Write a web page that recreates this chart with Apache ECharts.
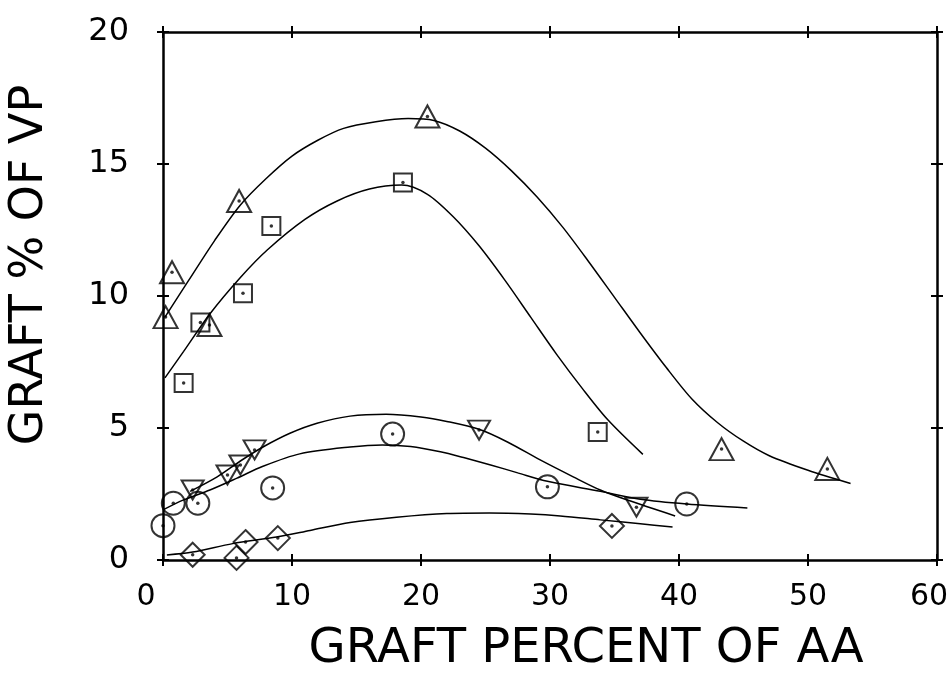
<!DOCTYPE html>
<html><head><meta charset="utf-8">
<script src="https://cdn.jsdelivr.net/npm/echarts@6/dist/echarts.min.js"></script>
<style>html,body{margin:0;padding:0;background:#fff}#c{width:952px;height:680px}</style>
</head><body><div id="c"></div>
<script>
// ---- data ----
const xRange = [0, 60];
const xStep = 10;
const yRange = [0, 20];
const yStep = 5;
const xTitle = 'GRAFT PERCENT OF AA';
const yTitle = 'GRAFT % OF VP';

// measured points [x, y]
const triangles = [[0.2,9.2],[0.7,10.9],[3.6,8.9],[5.9,13.6],[20.5,16.8],[43.3,4.2],[51.5,3.45]];
const squares = [[1.6,6.7],[2.9,9.0],[6.2,10.1],[8.4,12.65],[18.6,14.3],[33.7,4.85]];
const invTriangles = [[2.3,2.65],[5.0,3.22],[6.0,3.6],[7.1,4.17],[24.5,4.92],[36.7,2.0]];
const circles = [[0.0,1.3],[0.8,2.15],[2.7,2.15],[8.5,2.73],[17.8,4.77],[29.8,2.77],[40.6,2.12]];
const diamonds = [[2.3,0.2],[5.7,0.08],[6.4,0.68],[8.9,0.83],[34.8,1.29]];

// fitted curves [x, y]
const triCurve = [[0.15,9.2],[2.0,10.6],[4.0,12.1],[6.0,13.45],[8.0,14.45],[10.0,15.3],[12.0,15.9],[14.0,16.35],[16.5,16.6],[19.0,16.72],[21.0,16.65],[23.0,16.25],[25.0,15.6],[27.0,14.75],[29.0,13.75],[31.0,12.6],[33.0,11.3],[35.0,9.95],[37.0,8.6],[39.0,7.3],[41.0,6.1],[43.0,5.2],[45.0,4.5],[47.0,3.95],[50.0,3.4],[53.3,2.9]];
const sqCurve = [[0.15,6.9],[1.6,7.9],[3.6,9.3],[6.0,10.7],[8.1,11.75],[11.0,12.9],[13.5,13.6],[16.0,14.05],[18.5,14.2],[20.5,13.85],[22.5,13.0],[24.5,11.9],[26.5,10.6],[28.5,9.2],[30.5,7.8],[32.5,6.5],[34.5,5.3],[37.2,4.0]];
const invCurve = [[2.1,2.6],[4.2,3.15],[6.0,3.75],[7.75,4.28],[9.84,4.8],[11.94,5.18],[14.5,5.45],[17.3,5.52],[20.0,5.42],[22.0,5.25],[24.5,4.95],[26.7,4.47],[29.2,3.8],[31.8,3.15],[33.9,2.65],[36.0,2.27],[39.7,1.67]];
const circCurve = [[0.0,1.9],[1.55,2.27],[3.64,2.65],[5.74,3.1],[7.75,3.55],[10.6,4.02],[14.5,4.28],[17.0,4.36],[19.2,4.3],[21.5,4.1],[23.3,3.88],[25.4,3.6],[27.5,3.3],[29.8,2.98],[33.9,2.6],[37.0,2.3],[40.6,2.12],[45.3,1.97]];
const diaCurve = [[0.3,0.19],[2.3,0.3],[5.4,0.62],[8.8,0.87],[11.4,1.12],[14.5,1.42],[18.1,1.62],[22.0,1.76],[25.3,1.78],[28.5,1.74],[30.8,1.67],[33.9,1.52],[37.0,1.37],[39.5,1.25]];

// ---- chart ----
const ink = '#000';
const font = 'DejaVu Sans';
const chart = echarts.init(document.getElementById('c'), null, {renderer: 'canvas'});

function xAx(pos, tickInside, main) {
  return {
    type: 'value', position: pos, min: xRange[0], max: xRange[1], interval: xStep,
    axisLine: {show: !tickInside, onZero: false, lineStyle: {color: ink, width: 2.5}},
    axisTick: {show: true, inside: tickInside, length: 6, lineStyle: {color: ink, width: 2}},
    axisLabel: main ? {
      show: true, color: ink, fontFamily: font, fontSize: 30, margin: 22,
      formatter: function (v) {
        if (v === xRange[0]) return '{s|' + v + '}';
        if (v === xRange[1]) return '{e|' + v + '}';
        return String(v);
      },
      rich: {
        s: {color: ink, fontFamily: font, fontSize: 30, padding: [0, 34, 0, 0]},
        e: {color: ink, fontFamily: font, fontSize: 30, padding: [0, 16, 0, 0]}
      }
    } : {show: false},
    splitLine: {show: false},
    name: main ? xTitle : '',
    nameLocation: 'middle', nameGap: 66,
    nameTextStyle: {color: ink, fontFamily: font, fontSize: 48, padding: [0, 0, 0, 72]}
  };
}
function yAx(pos, tickInside, main) {
  return {
    type: 'value', position: pos, min: yRange[0], max: yRange[1], interval: yStep,
    axisLine: {show: !tickInside, onZero: false, lineStyle: {color: ink, width: 2.5}},
    axisTick: {show: true, inside: tickInside, length: 6, lineStyle: {color: ink, width: 2}},
    axisLabel: main ? {show: true, color: ink, fontFamily: font, fontSize: 32, margin: 34} : {show: false},
    splitLine: {show: false},
    name: main ? yTitle : '',
    nameLocation: 'middle', nameGap: 110,
    nameTextStyle: {color: ink, fontFamily: font, fontSize: 46, padding: [0, 0, 0, 62]}
  };
}

function markers(data, symbol, size, rotate) {
  return {
    type: 'scatter', data: data, symbol: symbol, symbolSize: size, symbolRotate: rotate || 0,
    itemStyle: {color: 'rgba(255,255,255,0)', borderColor: ink, borderWidth: 2},
    z: 3, silent: true
  };
}
function dots(data) {
  return {type: 'scatter', data: data, symbol: 'circle', symbolSize: 3.5,
    itemStyle: {color: ink}, z: 4, silent: true};
}
function curve(data) {
  return {type: 'line', data: data, smooth: 0.3, showSymbol: false, symbol: 'none',
    lineStyle: {color: ink, width: 1.5}, z: 2, silent: true};
}

chart.setOption({
  animation: false,
  backgroundColor: '#fff',
  grid: {left: 163, right: 15, top: 32, bottom: 120, containLabel: false, outerBoundsMode: 'none'},
  xAxis: [xAx('bottom', false, true), xAx('bottom', true, false), xAx('top', false, false), xAx('top', true, false)],
  yAxis: [yAx('left', false, true), yAx('left', true, false), yAx('right', false, false), yAx('right', true, false)],
  series: [
    curve(triCurve), curve(sqCurve), curve(invCurve), curve(circCurve), curve(diaCurve),
    markers(triangles, 'triangle', [24, 22]),
    markers(squares, 'rect', [18, 18]),
    markers(invTriangles, 'triangle', [22, 19], 180),
    markers(circles, 'circle', 23),
    markers(diamonds, 'diamond', [24, 24]),
    dots(triangles), dots(squares), dots(invTriangles), dots(circles), dots(diamonds)
  ]
});
</script>
</body></html>
